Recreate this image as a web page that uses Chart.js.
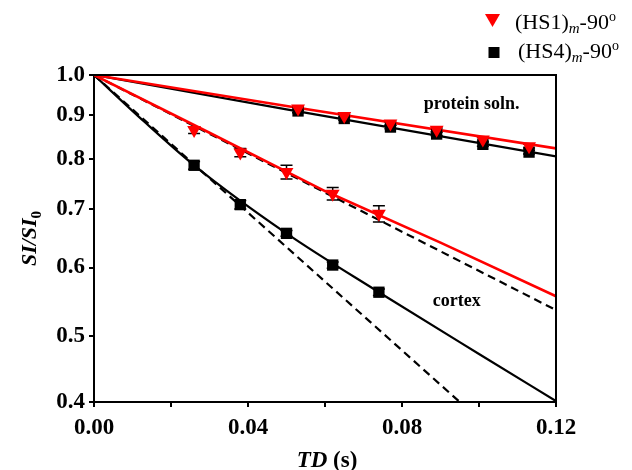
<!DOCTYPE html>
<html>
<head>
<meta charset="utf-8">
<script src="https://cdn.jsdelivr.net/npm/chart.js@4.4.0/dist/chart.umd.min.js"></script>
<style>
  html, body { margin: 0; padding: 0; background: #fff; }
  #wrap { width: 632px; height: 470px; }
</style>
</head>
<body>
<div id="wrap"><canvas id="c" width="632" height="470"></canvas></div>
<script>
// ---- data ----
const SERIF = '"Liberation Serif", "Times New Roman", serif';
const RED = '#ff0000';

// protein solution points
const tdProtein = [0.053, 0.065, 0.077, 0.089, 0.101, 0.113];
const hs1Protein = [0.915, 0.897, 0.879, 0.865, 0.843, 0.828];
const hs1ProteinErr = [0.004, 0.004, 0.004, 0.004, 0.004, 0.004];
const hs4Protein = [0.909, 0.891, 0.871, 0.855, 0.832, 0.815];
const hs4ProteinErr = [0.004, 0.004, 0.004, 0.004, 0.004, 0.004];

// cortex points
const tdCortex = [0.026, 0.038, 0.050, 0.062, 0.074];
const hs1Cortex = [0.864, 0.814, 0.773, 0.730, 0.692];
const hs1CortexErr = [0.008, 0.009, 0.014, 0.012, 0.015];
const hs4Cortex = [0.787, 0.709, 0.657, 0.604, 0.562];
const hs4CortexErr = [0.008, 0.008, 0.005, 0.005, 0.005];

// fitted curves
const fitProteinHs1X = [0, 0.05, 0.12];
const fitProteinHs1Y = [1.0, 0.921, 0.823];
const fitProteinHs4X = [0, 0.05, 0.12];
const fitProteinHs4Y = [1.0, 0.913, 0.806];
const fitCortexHs1X = [0, 0.03, 0.06, 0.09, 0.12];
const fitCortexHs1Y = [1.0, 0.858, 0.735, 0.641, 0.556];
const monoCortexHs1X = [0, 0.12];
const monoCortexHs1Y = [1.0, 0.536];
const fitCortexHs4X = [0, 0.013, 0.026, 0.05, 0.074, 0.1, 0.12];
const fitCortexHs4Y = [1.0, 0.884, 0.787, 0.657, 0.562, 0.477, 0.421];
const monoCortexHs4X = [0, 0.095];
const monoCortexHs4Y = [1.0, 0.42];

// axes
const yTicks = [0.42, 0.5, 0.6, 0.7, 0.8, 0.9, 1.0]; // bottom edge is labelled "0.4"

const toXY = (xs, ys) => xs.map((x, i) => ({ x, y: ys[i] }));

function lineSet(xs, ys, color, dash, mode) {
  return {
    data: toXY(xs, ys),
    showLine: true,
    borderColor: color,
    borderWidth: color === RED ? 2.6 : 2.2,
    borderDash: dash || [],
    pointRadius: 0,
    cubicInterpolationMode: mode || 'default',
    tension: 0,
    order: 5
  };
}

function pointSet(xs, ys, color, style) {
  return {
    data: toXY(xs, ys),
    showLine: false,
    pointStyle: style,
    pointRotation: style === 'triangle' ? 180 : 0,
    pointRadius: 8,
    backgroundColor: color,
    borderColor: color,
    borderWidth: 0,
    order: 0
  };
}

const errorSets = [
  [tdProtein, hs4Protein, hs4ProteinErr],
  [tdProtein, hs1Protein, hs1ProteinErr],
  [tdCortex, hs4Cortex, hs4CortexErr],
  [tdCortex, hs1Cortex, hs1CortexErr]
];

// draw a run of text pieces with their own fonts / baseline shifts
function richText(ctx, parts, x, y, align) {
  let total = 0;
  parts.forEach(p => { ctx.font = p.font; total += ctx.measureText(p.t).width; });
  let cx = align === 'center' ? x - total / 2 : x;
  parts.forEach(p => {
    ctx.font = p.font;
    ctx.fillText(p.t, cx, y + (p.dy || 0));
    cx += ctx.measureText(p.t).width;
  });
}

const decor = {
  id: 'decor',
  beforeDatasetsDraw(chart) {
    const { ctx, scales: { x, y } } = chart;
    ctx.save();
    ctx.strokeStyle = '#000';
    ctx.lineWidth = 1.5;
    errorSets.forEach(([xs, ys, es]) => {
      xs.forEach((v, i) => {
        const px = x.getPixelForValue(v);
        const top = y.getPixelForValue(ys[i] + es[i]);
        const bot = y.getPixelForValue(ys[i] - es[i]);
        ctx.beginPath();
        ctx.moveTo(px, top); ctx.lineTo(px, bot);
        ctx.moveTo(px - 6, top); ctx.lineTo(px + 6, top);
        ctx.moveTo(px - 6, bot); ctx.lineTo(px + 6, bot);
        ctx.stroke();
      });
    });
    ctx.restore();
  },
  afterDraw(chart) {
    const { ctx, chartArea: a, scales: { x, y } } = chart;
    ctx.save();
    // box: top and right edges
    ctx.strokeStyle = '#000';
    ctx.lineWidth = 2;
    ctx.beginPath();
    ctx.moveTo(a.left, a.top); ctx.lineTo(a.right, a.top); ctx.lineTo(a.right, a.bottom);
    ctx.stroke();

    ctx.fillStyle = '#000';
    ctx.textBaseline = 'middle';
    ctx.textAlign = 'center';
    ctx.font = 'bold 18px ' + SERIF;
    ctx.fillText('protein soln.', x.getPixelForValue(0.0981), y.getPixelForValue(0.926));
    ctx.fillText('cortex', x.getPixelForValue(0.0942), y.getPixelForValue(0.548));

    // axis titles
    ctx.textAlign = 'left';
    ctx.textBaseline = 'alphabetic';
    richText(ctx, [
      { t: 'TD', font: 'italic bold 23px ' + SERIF },
      { t: ' (s)', font: 'bold 23px ' + SERIF }
    ], (a.left + a.right) / 2 + 2, 467, 'center');

    ctx.save();
    ctx.translate(36, (a.top + a.bottom) / 2);
    ctx.rotate(-Math.PI / 2);
    richText(ctx, [
      { t: 'SI/SI', font: 'italic bold 22px ' + SERIF },
      { t: '0', font: 'bold 15px ' + SERIF, dy: 5 }
    ], 0, 0, 'center');
    ctx.restore();

    // legend
    ctx.fillStyle = RED;
    ctx.beginPath();
    ctx.moveTo(485, 14); ctx.lineTo(500, 14); ctx.lineTo(492.5, 27);
    ctx.closePath();
    ctx.fill();
    ctx.fillStyle = '#000';
    ctx.fillRect(488.5, 47, 11, 11);

    const leg = (label, lx, ly) => richText(ctx, [
      { t: label, font: '22px ' + SERIF },
      { t: 'm', font: 'italic 15px ' + SERIF, dy: 4 },
      { t: '-90', font: '22px ' + SERIF },
      { t: 'o', font: '14px ' + SERIF, dy: -8 }
    ], lx, ly, 'left');
    leg('(HS1)', 515, 29);
    leg('(HS4)', 518, 58);
    ctx.restore();
  }
};

const tickFont = { family: SERIF, size: 23, weight: 'bold' };

new Chart(document.getElementById('c'), {
  type: 'scatter',
  data: {
    datasets: [
      pointSet(tdProtein, hs1Protein, RED, 'triangle'),
      pointSet(tdCortex, hs1Cortex, RED, 'triangle'),
      pointSet(tdProtein, hs4Protein, '#000', 'rect'),
      pointSet(tdCortex, hs4Cortex, '#000', 'rect'),
      lineSet(fitProteinHs1X, fitProteinHs1Y, RED),
      lineSet(fitProteinHs4X, fitProteinHs4Y, '#000'),
      lineSet(fitCortexHs1X, fitCortexHs1Y, RED),
      lineSet(monoCortexHs1X, monoCortexHs1Y, '#000', [8, 5]),
      lineSet(fitCortexHs4X, fitCortexHs4Y, '#000', null, 'monotone'),
      lineSet(monoCortexHs4X, monoCortexHs4Y, '#000', [8, 5])
    ]
  },
  options: {
    responsive: false,
    animation: false,
    layout: { padding: { left: 0, right: 76, top: 75, bottom: 0 } },
    plugins: { legend: { display: false }, tooltip: { enabled: false } },
    scales: {
      x: {
        type: 'linear',
        min: 0,
        max: 0.12,
        afterFit: s => { s.height = 68; },
        ticks: {
          stepSize: 0.02,
          font: tickFont,
          color: '#000',
          padding: 7,
          maxRotation: 0,
          callback: v => (Math.round(v * 100) % 4 === 0 ? v.toFixed(2) : '')
        },
        grid: { drawOnChartArea: false, drawTicks: true, tickLength: 5, color: '#000', lineWidth: 2 },
        border: { display: true, color: '#000', width: 2 }
      },
      y: {
        type: 'logarithmic',
        min: 0.42,
        max: 1.0,
        bounds: 'data',
        afterFit: s => { s.width = 94; },
        afterBuildTicks: s => { s.ticks = yTicks.map(v => ({ value: v })); },
        ticks: {
          font: tickFont,
          color: '#000',
          padding: 4,
          callback: v => Number(v).toFixed(1)
        },
        grid: { drawOnChartArea: false, drawTicks: true, tickLength: 5, color: '#000', lineWidth: 2 },
        border: { display: true, color: '#000', width: 2 }
      }
    }
  },
  plugins: [decor]
});
</script>
</body>
</html>
